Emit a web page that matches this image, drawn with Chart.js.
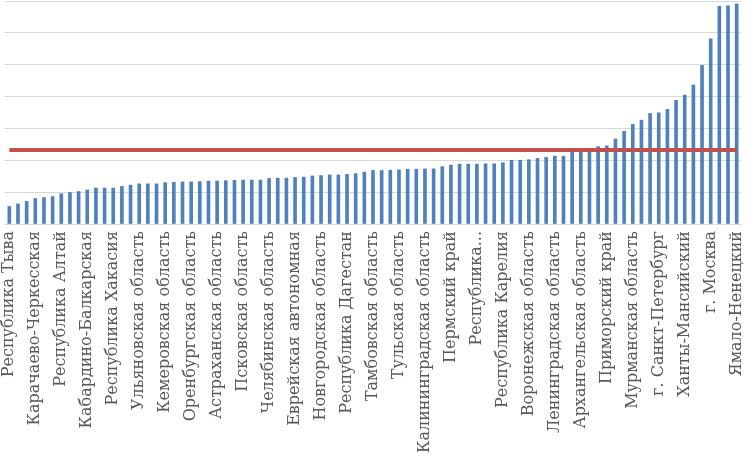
<!DOCTYPE html>
<html>
<head>
<meta charset="utf-8">
<script src="https://cdn.jsdelivr.net/npm/chart.js@4.4.1/dist/chart.umd.min.js"></script>
<style>
  html, body { margin: 0; padding: 0; background: #ffffff; }
  #wrap { width: 750px; height: 462px; }
</style>
</head>
<body>
<div id="wrap"><canvas id="c" width="750" height="462"></canvas></div>
<script>
const categories = [
  "Республика Тыва", "Республика Ингушетия", "Чеченская Республика",
  "Карачаево-Черкесская", "Республика Калмыкия", "Курганская область",
  "Республика Алтай", "Республика Марий Эл", "Алтайский край",
  "Кабардино-Балкарская", "Республика Адыгея", "Ивановская область",
  "Республика Хакасия", "Чувашская Республика", "Республика Бурятия",
  "Ульяновская область", "Кировская область", "Пензенская область",
  "Кемеровская область", "Забайкальский край", "Омская область",
  "Оренбургская область", "Республика Мордовия", "Ставропольский край",
  "Астраханская область", "Брянская область", "Саратовская область",
  "Псковская область", "Костромская область", "Смоленская область",
  "Челябинская область", "Орловская область", "Волгоградская область",
  "Еврейская автономная", "Республика Северная Осетия", "Владимирская область",
  "Новгородская область", "Тверская область", "Рязанская область",
  "Республика Дагестан", "Удмуртская Республика", "Курская область",
  "Тамбовская область", "Ярославская область", "Новосибирская область",
  "Тульская область", "Липецкая область", "Вологодская область",
  "Калининградская область", "Республика Башкортостан", "Самарская область",
  "Пермский край", "Калужская область", "Нижегородская область",
  "Республика...", "Белгородская область", "Ростовская область",
  "Республика Карелия", "Краснодарский край", "Свердловская область",
  "Воронежская область", "Томская область", "Иркутская область",
  "Ленинградская область", "Хабаровский край", "Республика Татарстан",
  "Архангельская область", "Красноярский край", "Республика Коми",
  "Приморский край", "Амурская область", "Московская область",
  "Мурманская область", "Республика Саха (Якутия)", "Тюменская область",
  "г. Санкт-Петербург", "Камчатский край", "Сахалинская область",
  "Ханты-Мансийский", "Магаданская область", "Ненецкий автономный округ",
  "г. Москва", "Чукотский автономный округ", "Республика Крым",
  "Ямало-Ненецкий"
];

const values = [
  5.5, 6.3, 7.1, 8.0, 8.3, 8.6, 9.5, 9.9, 10.2, 10.7,
  11.3, 11.3, 11.3, 11.8, 12.2, 12.6, 12.6, 12.6, 13.0, 13.1,
  13.2, 13.2, 13.3, 13.5, 13.5, 13.6, 13.7, 13.8, 13.8, 13.8,
  14.3, 14.4, 14.4, 14.6, 14.7, 15.1, 15.2, 15.4, 15.4, 15.6,
  15.8, 16.3, 16.8, 16.8, 16.9, 17.0, 17.2, 17.2, 17.3, 17.3,
  18.0, 18.5, 18.8, 18.8, 18.8, 18.9, 18.9, 19.2, 20.0, 20.0,
  20.2, 20.6, 20.9, 21.3, 21.3, 22.6, 22.7, 23.0, 24.3, 24.5,
  26.7, 29.1, 31.3, 32.6, 34.7, 34.9, 36.0, 38.8, 40.5, 43.6,
  49.8, 58.1, 68.3, 68.5, 69.1
];

const averageValue = 23.2;
const yMin = 0, yMax = 70, yStep = 10;
const labelEvery = 3;

const averageLine = categories.map(() => averageValue);

new Chart(document.getElementById('c'), {
  data: {
    labels: categories,
    datasets: [
      {
        type: 'line',
        label: 'Среднее',
        data: averageLine,
        borderColor: '#c0504d',
        borderWidth: 4,
        pointRadius: 0,
        fill: false,
        order: 0
      },
      {
        type: 'bar',
        label: 'Значение',
        data: values,
        backgroundColor: '#4f81bd',
        barThickness: 3,
        order: 1
      }
    ]
  },
  options: {
    responsive: false,
    animation: false,
    devicePixelRatio: 1,
    layout: { padding: { left: 5, right: 9, top: 1, bottom: 0 } },
    plugins: { legend: { display: false }, tooltip: { enabled: false } },
    scales: {
      x: {
        offset: true,
        grid: { display: false, drawTicks: false },
        border: { display: true, color: '#d9d9d9', width: 1 },
        ticks: {
          autoSkip: false,
          minRotation: 90,
          maxRotation: 90,
          padding: 7,
          color: '#595959',
          font: { family: 'DejaVu Serif', size: 16 },
          callback: function (val, i) { return i % labelEvery === 0 ? categories[i] : ''; }
        },
        afterFit: function (scale) {
          scale.height = 238;
          scale.paddingLeft = 0;
          scale.paddingRight = 0;
        }
      },
      y: {
        min: yMin,
        max: yMax,
        ticks: { display: false, stepSize: yStep },
        grid: { color: '#d9d9d9', lineWidth: 1, drawTicks: false },
        border: { display: false },
        afterFit: function (scale) { scale.width = 0; }
      }
    }
  }
});
</script>
</body>
</html>
